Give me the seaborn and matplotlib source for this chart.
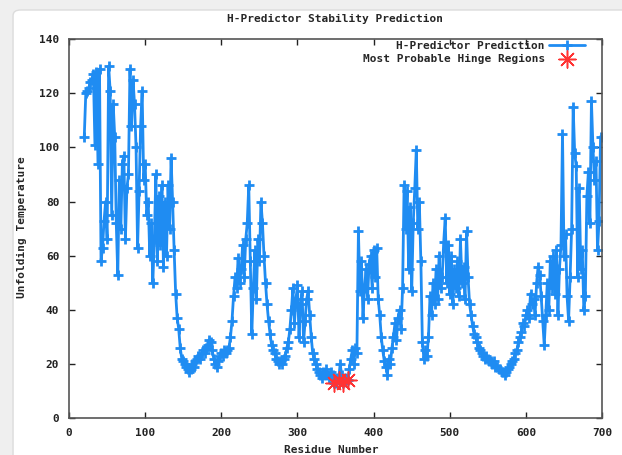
import numpy as np
import pandas as pd
import matplotlib
matplotlib.use("Agg")
import matplotlib.pyplot as plt
import seaborn as sns
from matplotlib.patches import FancyBboxPatch

# residue numbers (every second residue) and predicted unfolding temperatures
residues = list(range(20, 699, 2))
temps = [
    104, 120, 121, 122, 124, 125, 127, 101, 128, 94, 129, 58, 63, 73, 80, 66, 130, 121, 75, 116, 104, 72, 53, 88, 70,
    94, 97, 66, 85, 90, 129, 108, 125, 116, 100, 63, 84, 108, 121, 88, 94, 75, 80, 60, 72, 50, 66, 90, 58, 82,
    64, 86, 56, 80, 60, 86, 70, 96, 80, 62, 46, 37, 33, 26, 22, 21, 20, 19, 18, 17, 18, 20, 19, 21, 22,
    23, 22, 24, 25, 24, 26, 27, 29, 28, 25, 22, 20, 19, 21, 23, 24, 23, 25, 24, 25, 26, 30, 36, 45, 52,
    48, 59, 50, 55, 64, 52, 66, 72, 86, 58, 31, 48, 62, 44, 66, 58, 80, 72, 60, 50, 42, 36, 31, 27, 25,
    24, 22, 21, 20, 21, 20, 22, 23, 26, 28, 33, 40, 48, 35, 44, 49, 30, 42, 47, 28, 36, 44, 47, 38, 30,
    24, 22, 20, 18, 17, 16, 15, 17, 16, 18, 16, 15, 17, 16, 13, 13, 15, 14, 20, 16, 13, 15, 14, 14, 18,
    22, 25, 20, 26, 24, 69, 47, 58, 37, 48, 55, 44, 57, 60, 48, 62, 52, 63, 44, 38, 30, 25, 21, 19, 16,
    22, 20, 26, 30, 35, 29, 37, 40, 33, 48, 86, 70, 84, 55, 78, 47, 72, 85, 99, 70, 80, 58, 28, 22, 25,
    23, 30, 45, 38, 50, 42, 55, 44, 60, 48, 52, 65, 74, 50, 64, 46, 60, 42, 55, 48, 58, 45, 66, 50, 56,
    44, 69, 52, 42, 38, 34, 31, 30, 28, 26, 25, 24, 23, 22, 23, 22, 21, 21, 20, 21, 19, 19, 18, 18, 17,
    17, 16, 17, 18, 19, 20, 21, 22, 24, 25, 28, 30, 32, 35, 34, 38, 40, 37, 46, 42, 44, 38, 50, 56, 53,
    45, 36, 27, 38, 50, 40, 58, 48, 60, 46, 62, 38, 55, 64, 105, 60, 68, 45, 36, 52, 70, 115, 98, 93, 52,
    85, 55, 62, 40, 45, 82, 91, 72, 117, 100, 88, 95, 62, 73, 104,
]
hinge_res = [348, 354, 360, 366]
hinge_temp = [13, 14, 13, 14]

x_ticks = [0, 100, 200, 300, 400, 500, 600, 700]
y_ticks = [0, 20, 40, 60, 80, 100, 120, 140]

sns.set_style("ticks")
plt.rcParams['font.family'] = ['DejaVu Sans Mono']
plt.rcParams['font.weight'] = 'bold'

df = pd.DataFrame({'residue': residues, 'temp': temps})
hinge_df = pd.DataFrame({'residue': hinge_res, 'temp': hinge_temp})

fig = plt.figure(figsize=(6.22, 4.55), dpi=100)
fig.patch.set_facecolor('#efefef')
fig.patches.append(FancyBboxPatch((0.021, -0.05), 1.0, 1.028,
                                  boxstyle='round,pad=0,rounding_size=0.012',
                                  transform=fig.transFigure, facecolor='white',
                                  edgecolor='#dcdcdc', lw=1, zorder=-5))
ax = fig.add_axes([0.111, 0.081, 0.857, 0.833])
ax.set_zorder(2)
ax.set_facecolor('white')

blue = '#1f8cf2'
sns.lineplot(data=df, x='residue', y='temp', ax=ax, color=blue, lw=2.0,
             marker='+', markersize=7, markeredgewidth=2, markeredgecolor=blue,
             estimator=None, sort=False, label='H-Predictor Prediction')
sns.scatterplot(data=hinge_df, x='residue', y='temp', ax=ax, marker=(8, 2, 0),
                s=150, color='#ff3333', linewidth=1.1, zorder=4,
                label='Most Probable Hinge Regions')

ax.set_xlim(0, 700)
ax.set_ylim(0, 140)
ax.set_xticks(x_ticks)
ax.set_yticks(y_ticks)
ax.tick_params(direction='in', top=True, right=True, length=4, width=1,
               labelsize=8, pad=7, colors='#222222')
for sp in ax.spines.values():
    sp.set_visible(True)
    sp.set_color('#555555')
    sp.set_linewidth(1.2)
ax.set_xlabel('')
ax.set_ylabel('')

fig.text(0.538, 0.958, 'H-Predictor Stability Prediction', ha='center', va='center',
         fontsize=8, weight='bold')
fig.text(0.533, 0.012, 'Residue Number', ha='center', va='center', fontsize=8, weight='bold')
fig.text(0.036, 0.5, 'Unfolding Temperature', ha='center', va='center', rotation=90,
         fontsize=8, weight='bold')

ax.legend(loc='upper right', bbox_to_anchor=(0.976, 1.006), frameon=False,
          markerfirst=False, handlelength=3.2, fontsize=8, borderaxespad=0,
          labelspacing=0.25, handletextpad=0.4)

fig.savefig('out.png', dpi=100, facecolor=fig.get_facecolor())
